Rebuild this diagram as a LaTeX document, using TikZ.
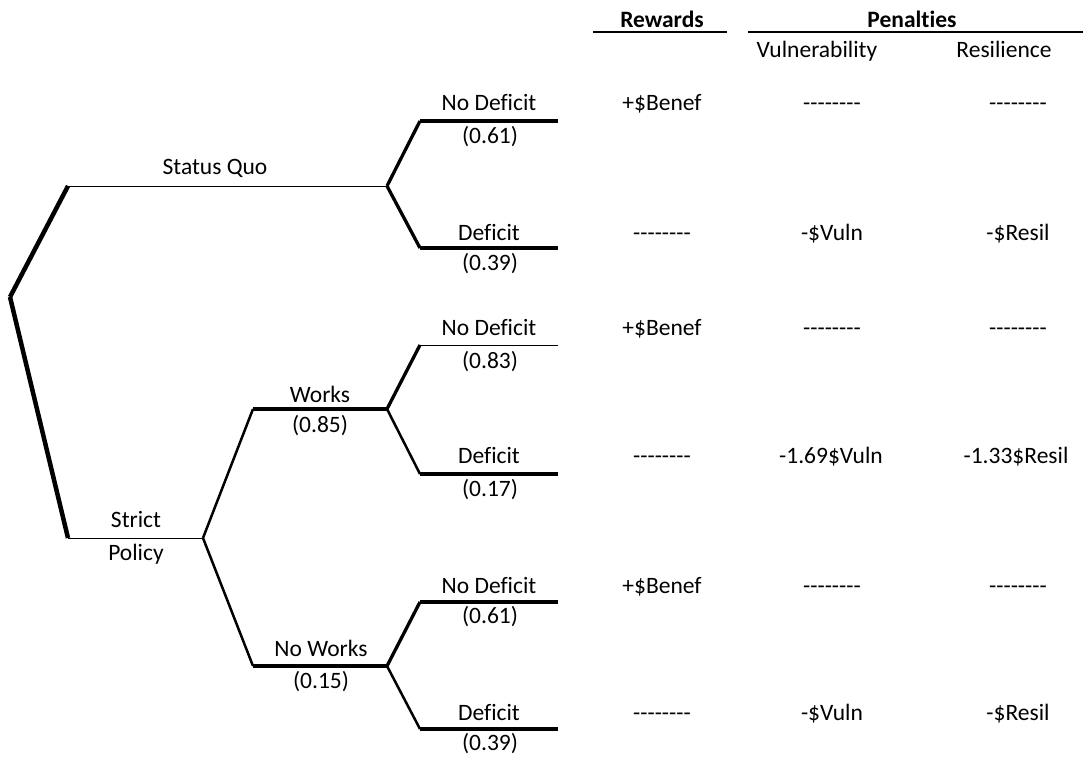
\documentclass[tikz,border=0pt]{standalone}
\usepackage{fontspec}
\setmainfont[Ligatures={TeXOff,NoCommon}]{Carlito}
\begin{document}
\begin{tikzpicture}[x=1pt,y=-1pt,
  lbl/.style={anchor=base,inner sep=0pt,font=\fontsize{23.5}{27}\selectfont},
  hdr/.style={anchor=base,inner sep=0pt,font=\fontsize{23.5}{27}\selectfont\bfseries},
  thinline/.style={line width=1pt},
  medline/.style={line width=2.5pt},
  thickline/.style={line width=3.3pt},
  rootline/.style={line width=4.5pt}]
\useasboundingbox (0,0) rectangle (1087,757);

% tree points
\coordinate (root) at (10,297);
\coordinate (sqA) at (68,186);  \coordinate (sq) at (387,186);
\coordinate (spA) at (68,538);  \coordinate (sp) at (203,538);
\coordinate (wA) at (253,409);  \coordinate (w) at (387,409);
\coordinate (nwA) at (253,666); \coordinate (nw) at (387,666);
\coordinate (sq1A) at (420,121); \coordinate (sq1) at (558,121);
\coordinate (sq2A) at (420,248); \coordinate (sq2) at (558,248);
\coordinate (w1A) at (420,345);  \coordinate (w1) at (558,345);
\coordinate (w2A) at (420,474);  \coordinate (w2) at (558,474);
\coordinate (nw1A) at (420,602); \coordinate (nw1) at (558,602);
\coordinate (nw2A) at (420,729); \coordinate (nw2) at (558,729);

% root branches
\draw[rootline] (root) -- (sqA);
\draw[thinline] (sqA) -- (sq);
\draw[rootline] (root) -- (spA);
\draw[thinline] (spA) -- (sp);
% strict policy branches
\draw[medline] (sp) -- (wA);
\draw[thickline] (wA) -- (w);
\draw[medline] (sp) -- (nwA);
\draw[thickline] (nwA) -- (nw);
% status quo outcomes
\draw[thickline] (sq) -- (sq1A);
\draw[thickline] (sq1A) -- (sq1);
\draw[thickline] (sq) -- (sq2A);
\draw[thickline] (sq2A) -- (sq2);
% works outcomes
\draw[thickline] (w) -- (w1A);
\draw[thinline] (w1A) -- (w1);
\draw[medline] (w) -- (w2A);
\draw[thickline] (w2A) -- (w2);
% no works outcomes
\draw[thickline] (nw) -- (nw1A);
\draw[thickline] (nw1A) -- (nw1);
\draw[medline] (nw) -- (nw2A);
\draw[thickline] (nw2A) -- (nw2);

% header
\node[hdr] (hrew) at (662,28) {Rewards};
\node[hdr] (hpen) at (912,28) {Penalties};
\coordinate (ru1) at (593,32); \coordinate (ru2) at (727,32);
\coordinate (pu1) at (748,32); \coordinate (pu2) at (1083,32);
\draw[line width=2.5pt] (ru1) -- (ru2);
\draw[line width=2.5pt] (pu1) -- (pu2);
\node[lbl] (hvul) at (817,58) {Vulnerability};
\node[lbl] (hres) at (1004,58) {Resilience};

% branch labels
\node[lbl] (lsq) at (215,175) {Status Quo};
\node[lbl] (lst) at (136,527) {Strict};
\node[lbl] (lpo) at (136,560) {Policy};
\node[lbl] (lw) at (320,402) {Works};
\node[lbl] (lwp) at (320,432) {(0.85)};
\node[lbl] (lnw) at (321,656) {No Works};
\node[lbl] (lnwp) at (321,688) {(0.15)};

% outcome labels
\node[lbl] (o1) at (489,111) {No Deficit};
\node[lbl] (o1p) at (490,143) {(0.61)};
\node[lbl] (o2) at (489,240) {Deficit};
\node[lbl] (o2p) at (490,270) {(0.39)};
\node[lbl] (o3) at (489,335) {No Deficit};
\node[lbl] (o3p) at (490,368) {(0.83)};
\node[lbl] (o4) at (489,463) {Deficit};
\node[lbl] (o4p) at (490,496) {(0.17)};
\node[lbl] (o5) at (489,593) {No Deficit};
\node[lbl] (o5p) at (490,623) {(0.61)};
\node[lbl] (o6) at (489,720) {Deficit};
\node[lbl] (o6p) at (490,750) {(0.39)};

% values
\node[lbl] (r1) at (662,111) {+\$Benef};
\node[lbl] (v1) at (832,111) {--------};
\node[lbl] (s1) at (1018,111) {--------};
\node[lbl] (r2) at (662,240) {--------};
\node[lbl] (v2) at (832,240) {-\$Vuln};
\node[lbl] (s2) at (1018,240) {-\$Resil};
\node[lbl] (r3) at (662,335) {+\$Benef};
\node[lbl] (v3) at (832,335) {--------};
\node[lbl] (s3) at (1018,335) {--------};
\node[lbl] (r4) at (662,463) {--------};
\node[lbl] (v4) at (831,463) {-1.69\$Vuln};
\node[lbl] (s4) at (1016,463) {-1.33\$Resil};
\node[lbl] (r5) at (662,593) {+\$Benef};
\node[lbl] (v5) at (832,593) {--------};
\node[lbl] (s5) at (1018,593) {--------};
\node[lbl] (r6) at (662,720) {--------};
\node[lbl] (v6) at (832,720) {-\$Vuln};
\node[lbl] (s6) at (1018,720) {-\$Resil};
\end{tikzpicture}
\end{document}
